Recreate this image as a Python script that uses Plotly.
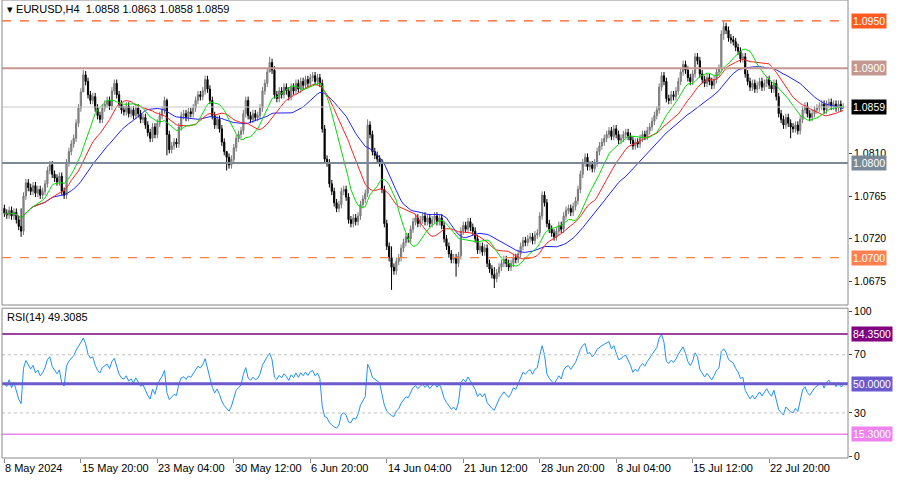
import plotly.graph_objects as go
import numpy as np

# H4 closes (approx.)
closes = [
    1.0747, 1.0745, 1.0750, 1.0744, 1.0748, 1.0740, 1.0733, 1.0728, 1.0765, 1.0779,
    1.0774, 1.0770, 1.0776, 1.0768, 1.0772, 1.0766, 1.0770, 1.0778, 1.0792, 1.0798,
    1.0788, 1.0784, 1.0780, 1.0786, 1.0770, 1.0766, 1.0800, 1.0812, 1.0820, 1.0826,
    1.0842, 1.0858, 1.0875, 1.0893, 1.0886, 1.0872, 1.0866, 1.0870, 1.0858, 1.0850,
    1.0846, 1.0858, 1.0862, 1.0866, 1.0860, 1.0876, 1.0884, 1.0872, 1.0862, 1.0856,
    1.0854, 1.0860, 1.0852, 1.0856, 1.0850, 1.0858, 1.0852, 1.0846, 1.0848, 1.0840,
    1.0832, 1.0826, 1.0838, 1.0830, 1.0842, 1.0850, 1.0856, 1.0866, 1.0830, 1.0814,
    1.0818, 1.0822, 1.0820, 1.0838, 1.0850, 1.0852, 1.0848, 1.0854, 1.0852, 1.0858,
    1.0866, 1.0872, 1.0870, 1.0876, 1.0888, 1.0878, 1.0866, 1.0850, 1.0840, 1.0846,
    1.0836, 1.0822, 1.0812, 1.0806, 1.0798, 1.0804, 1.0816, 1.0826, 1.0830, 1.0834,
    1.0852, 1.0866, 1.0850, 1.0846, 1.0852, 1.0848, 1.0850, 1.0858, 1.0876, 1.0884,
    1.0896, 1.0906, 1.0898, 1.0872, 1.0868, 1.0876, 1.0872, 1.0880, 1.0876, 1.0870,
    1.0880, 1.0876, 1.0884, 1.0878, 1.0886, 1.0882, 1.0888, 1.0884, 1.0890, 1.0892,
    1.0886, 1.0890, 1.0884, 1.0836, 1.0804, 1.0800, 1.0778, 1.0770, 1.0758, 1.0752,
    1.0756, 1.0770, 1.0772, 1.0764, 1.0740, 1.0736, 1.0742, 1.0738, 1.0744, 1.0756,
    1.0762, 1.0768, 1.0840, 1.0830, 1.0812, 1.0808, 1.0804, 1.0800, 1.0772, 1.0736,
    1.0712, 1.0700, 1.0690, 1.0686, 1.0696, 1.0700, 1.0710, 1.0716, 1.0722, 1.0720,
    1.0730, 1.0738, 1.0742, 1.0736, 1.0740, 1.0744, 1.0738, 1.0742, 1.0736, 1.0740,
    1.0744, 1.0738, 1.0742, 1.0734, 1.0720, 1.0712, 1.0704, 1.0698, 1.0700, 1.0694,
    1.0702, 1.0728, 1.0734, 1.0730, 1.0738, 1.0732, 1.0728, 1.0720, 1.0708, 1.0712,
    1.0706, 1.0710, 1.0694, 1.0688, 1.0682, 1.0678, 1.0684, 1.0690, 1.0694, 1.0698,
    1.0694, 1.0690, 1.0694, 1.0700, 1.0698, 1.0704, 1.0712, 1.0718, 1.0716, 1.0720,
    1.0722, 1.0718, 1.0724, 1.0726, 1.0744, 1.0766, 1.0758, 1.0736, 1.0730, 1.0726,
    1.0722, 1.0728, 1.0734, 1.0730, 1.0744, 1.0750, 1.0752, 1.0748, 1.0754, 1.0760,
    1.0772, 1.0788, 1.0800, 1.0806, 1.0796, 1.0798, 1.0794, 1.0800, 1.0812, 1.0818,
    1.0822, 1.0826, 1.0830, 1.0834, 1.0828, 1.0836, 1.0830, 1.0824, 1.0826, 1.0830,
    1.0832, 1.0828, 1.0824, 1.0818, 1.0822, 1.0820, 1.0826, 1.0830, 1.0828, 1.0834,
    1.0838, 1.0844, 1.0850, 1.0856, 1.0880, 1.0892, 1.0886, 1.0868, 1.0866, 1.0872,
    1.0870, 1.0876, 1.0886, 1.0896, 1.0904, 1.0898, 1.0890, 1.0886, 1.0894, 1.0912,
    1.0908, 1.0894, 1.0888, 1.0884, 1.0890, 1.0886, 1.0882, 1.0888, 1.0896, 1.0900,
    1.0936, 1.0944, 1.0940, 1.0932, 1.0930, 1.0928, 1.0922, 1.0918, 1.0910, 1.0912,
    1.0894, 1.0886, 1.0880, 1.0884, 1.0878, 1.0882, 1.0886, 1.0880, 1.0884, 1.0888,
    1.0882, 1.0878, 1.0884, 1.0870, 1.0852, 1.0846, 1.0840, 1.0848, 1.0842, 1.0838,
    1.0836, 1.0840, 1.0834, 1.0846, 1.0856, 1.0860, 1.0852, 1.0848, 1.0852, 1.0856,
    1.0858, 1.0860, 1.0862, 1.0856, 1.0862, 1.0864, 1.0860, 1.0862, 1.0858, 1.0862,
    1.0858, 1.0859,
]
first_open = 1.0752
# visible spikes: bar -> (high, low)
spikes = {7: (1.0752, 1.0722), 33: (1.0898, 1.0880), 68: (1.0868, 1.0808),
          93: (1.0812, 1.0792), 111: (1.0912, 1.0896), 152: (1.0846, 1.0764),
          162: (1.0712, 1.0666), 189: (1.0704, 1.0680), 205: (1.0690, 1.0668),
          301: (1.0950, 1.0930), 329: (1.0846, 1.0826), 351: (1.0863, 1.0858)}

date_labels = ["8 May 2024", "15 May 20:00", "23 May 04:00", "30 May 12:00", "6 Jun 20:00",
               "14 Jun 04:00", "21 Jun 12:00", "28 Jun 20:00", "8 Jul 04:00",
               "15 Jul 12:00", "22 Jul 20:00"]
label_bars = [0, 32, 64, 96, 128, 160, 192, 224, 256, 288, 320]

price_ticks = [1.0810, 1.0765, 1.0720, 1.0675]
levels = [(1.0950, "#ff5a1f", "dash"), (1.0900, "#c49890", "solid"),
          (1.0800, "#7a8a99", "solid"), (1.0700, "#ff7f50", "dash")]
last_price = 1.0859
rsi_levels = [(84.35, "#800080", "84.3500"), (50.0, "#6a5acd", "50.0000"),
              (15.30, "#ee82ee", "15.3000")]

c = np.array(closes)
n = len(c)
x = np.arange(n)
o = np.concatenate([[first_open], c[:-1]])
o[-1] = 1.0858
hi = np.maximum(o, c) + 0.0004
lo = np.minimum(o, c) - 0.0004
for k, (h, l) in spikes.items():
    hi[k], lo[k] = h, l


def sma(a, p):
    out = np.full(len(a), np.nan)
    for i in range(len(a)):
        j = max(0, i - p + 1)
        out[i] = a[j:i + 1].mean()
    return out


d = np.diff(c, prepend=c[0])
up, dn = np.clip(d, 0, None), np.clip(-d, 0, None)
ag, al = np.zeros(n), np.zeros(n)
ag[0], al[0] = 0.0002, 0.0002
for i in range(1, n):
    ag[i] = (ag[i - 1] * 13 + up[i]) / 14
    al[i] = (al[i - 1] * 13 + dn[i]) / 14
rsi = 100 - 100 / (1 + ag / np.where(al == 0, 1e-9, al))

fig = go.Figure()
fig.add_trace(go.Candlestick(
    x=x, open=o, high=hi, low=lo, close=c, whiskerwidth=0,
    increasing=dict(line=dict(color="#777777", width=1), fillcolor="#9a9a9a"),
    decreasing=dict(line=dict(color="#000000", width=1), fillcolor="#000000"),
    xaxis="x", yaxis="y"))
for p, col in [(34, "#2020ff"), (21, "#ff2020"), (13, "#00dd00")]:
    fig.add_trace(go.Scatter(x=x, y=sma(c, p), mode="lines",
                             line=dict(color=col, width=1), xaxis="x", yaxis="y"))
fig.add_trace(go.Scatter(x=x, y=rsi, mode="lines", line=dict(color="#1e90ff", width=1),
                         xaxis="x", yaxis="y2"))

X0, X1 = -1, 353
shapes = []
for v, col, dash in levels:
    shapes.append(dict(type="line", xref="x", yref="y", x0=X0, x1=X1, y0=v, y1=v,
                       line=dict(color=col, width=2 if dash == "solid" else 1.2, dash=dash)))
shapes.append(dict(type="line", xref="x", yref="y", x0=X0, x1=X1, y0=last_price,
                   y1=last_price, line=dict(color="#c8c8c8", width=1)))
for v in [70, 30]:
    shapes.append(dict(type="line", xref="x", yref="y2", x0=X0, x1=X1, y0=v, y1=v,
                       line=dict(color="#c0c0c0", width=1, dash="dot")))
for v, col, _ in rsi_levels:
    shapes.append(dict(type="line", xref="x", yref="y2", x0=X0, x1=X1, y0=v, y1=v,
                       line=dict(color=col, width=3 if v == 50 else 1.5)))
for d0, d1 in [(0.334, 1.0), (0.0, 0.327)]:
    shapes.append(dict(type="rect", xref="paper", yref="paper", x0=0, x1=1, y0=d0, y1=d1,
                       line=dict(color="#888888", width=1)))

ann = []
font = dict(family="Liberation Sans", size=11, color="#000000")
axfont = dict(family="Liberation Sans", size=10.5, color="#000000")
ann.append(dict(text="▾ EURUSD,H4  1.0858 1.0863 1.0858 1.0859", xref="paper", yref="paper",
                x=0.004, y=0.998, xanchor="left", yanchor="top", showarrow=False, font=font))
ann.append(dict(text="RSI(14) 49.3085", xref="paper", yref="paper", x=0.004, y=0.325,
                xanchor="left", yanchor="top", showarrow=False, font=font))
for b, t in zip(label_bars, date_labels):
    ann.append(dict(text=t, xref="x", yref="paper", x=b - 0.5, y=-0.004, xanchor="left",
                    yanchor="top", showarrow=False, font=font))
box = [(v, col) for v, col, _ in levels] + [(last_price, "#000000")]
for v, col in box:
    ann.append(dict(text=f"{v:.4f}", xref="paper", yref="y", x=1.004, y=v, xanchor="left",
                    yanchor="middle", showarrow=False, bgcolor=col, borderpad=1,
                    font=dict(family="Liberation Sans", size=10.5, color="#ffffff")))
for v, col, t in rsi_levels:
    ann.append(dict(text=t, xref="paper", yref="y2", x=1.004, y=v, xanchor="left",
                    yanchor="middle", showarrow=False, bgcolor=col, borderpad=1,
                    font=dict(family="Liberation Sans", size=10.5, color="#ffffff")))

fig.update_layout(
    width=900, height=480, margin=dict(l=2, r=52, t=0, b=22, autoexpand=False),
    paper_bgcolor="white", plot_bgcolor="white", showlegend=False,
    shapes=shapes, annotations=ann,
    xaxis=dict(range=[X0, X1], showgrid=False, zeroline=False, showticklabels=False,
               ticks="outside", tickvals=label_bars, ticklen=4, tickcolor="#888",
               rangeslider=dict(visible=False), anchor="y2", automargin=False),
    yaxis=dict(domain=[0.334, 1.0], range=[1.0650, 1.0972], side="right", showgrid=False,
               zeroline=False, tickvals=price_ticks, tickformat=".4f", ticks="outside",
               ticklen=3, tickfont=axfont, automargin=False),
    yaxis2=dict(domain=[0.0, 0.327], range=[-1, 102], side="right", showgrid=False,
                zeroline=False, tickvals=[100, 70, 30, 0], ticks="outside", ticklen=3,
                tickfont=axfont, automargin=False),
)
fig.write_html("out.html", config={"displayModeBar": False},
               post_script="document.body.style.margin='0';")
